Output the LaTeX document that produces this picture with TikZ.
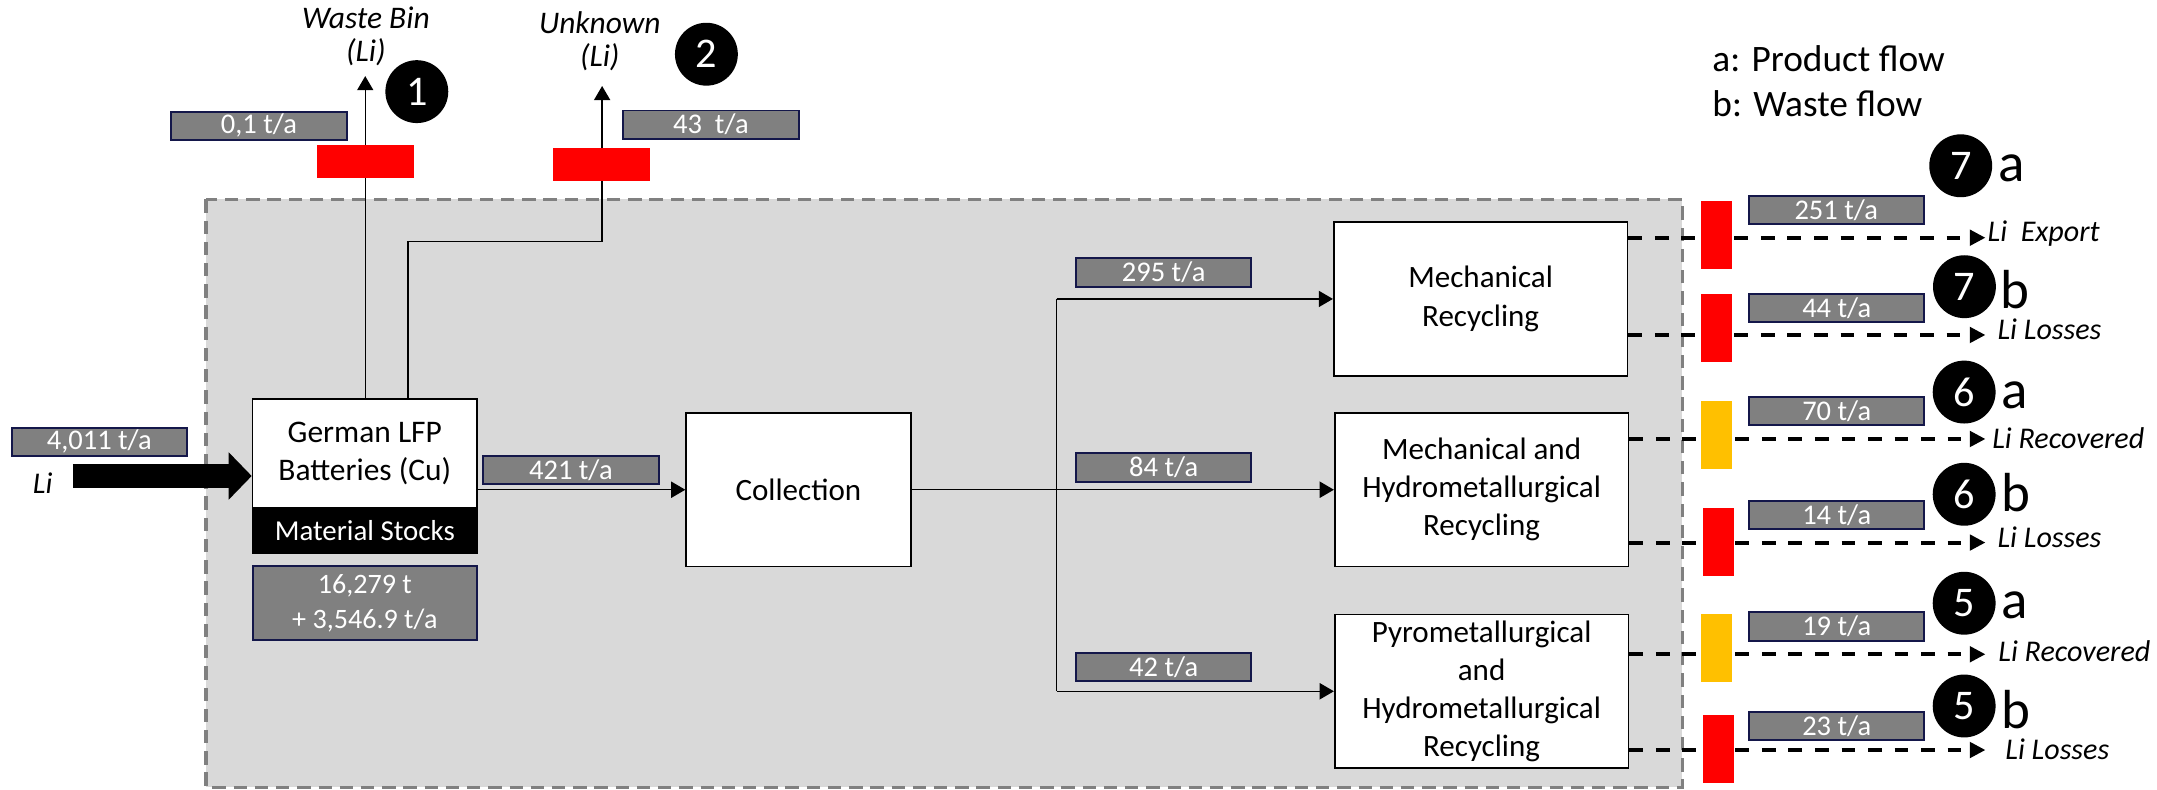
\documentclass[tikz,border=0pt]{standalone}
\usepackage{fontspec}
\setmainfont{Carlito}
\usetikzlibrary{arrows.meta}
\definecolor{valfill}{HTML}{808080}
\definecolor{valedge}{HTML}{14174A}
\definecolor{sysfill}{HTML}{D9D9D9}
\definecolor{sysedge}{HTML}{808080}
\definecolor{lossred}{HTML}{FF0000}
\definecolor{recgold}{HTML}{FFC000}
\newcommand{\fsz}[2]{\fontsize{#1}{#2}\selectfont}

\begin{document}
\begin{tikzpicture}[x=0.7pt,y=-0.7pt,
  proc/.style={draw=black, line width=0.9pt, fill=white, align=center, inner sep=0pt,
    minimum width=149.4pt, minimum height=78.2pt, font=\fsz{15.8}{19.4}},
  stockbox/.style={draw=black, line width=0.9pt, fill=white, align=center, inner sep=0pt,
    minimum width=114.2pt, font=\fsz{16}{19.5}},
  stocklabel/.style={draw=black, line width=0.9pt, fill=black, text=white, inner sep=0pt,
    minimum width=114.2pt, minimum height=22.9pt, font=\fsz{14.7}{16}},
  val/.style={draw=valedge, line width=1pt, fill=valfill, text=white, inner sep=0pt,
    minimum width=89.2pt, minimum height=14.4pt, font=\fsz{14.5}{15}},
  redbar/.style={fill=lossred, inner sep=0pt, minimum width=15.75pt, minimum height=34.7pt},
  goldbar/.style={fill=recgold, inner sep=0pt, minimum width=15.75pt, minimum height=34.7pt},
  topbar/.style={fill=lossred, inner sep=0pt, minimum width=49.1pt, minimum height=16.9pt},
  num/.style={circle, fill=black, text=white, inner sep=0pt, minimum size=32pt,
    font=\fsz{21.5}{21.5}},
  tag/.style={inner sep=0pt, anchor=base west, font=\fsz{28}{28}},
  outlab/.style={inner sep=0pt, anchor=west, font=\itshape\fsz{15.3}{16}},
  sinklab/.style={inner sep=0pt, align=center, font=\itshape\fsz{16}{17}},
  legend/.style={inner sep=0pt, anchor=base west, font=\fsz{19}{19}},
  flow/.style={line width=0.75pt},
  flowarr/.style={flow, -{Triangle[length=7.2pt,width=8.2pt]}},
  lossflow/.style={line width=2pt, dash pattern=on 7pt off 6.5pt,
    -{Triangle[length=8pt,width=7.8pt]}},
]
\useasboundingbox (0,0) rectangle (1568,574);

% system boundary
\draw[draw=sysedge, fill=sysfill, line width=1.7pt, dash pattern=on 6.8pt off 4pt]
  (149.8,144.9) rectangle (1223,572.3);

% processes and stock
\node[stockbox, minimum height=55.7pt] (glfp) at (265.2,329.75) {German LFP\\Batteries (Cu)};
\node[stocklabel] (stocks) at (265.2,385.85) {Material Stocks};
\node[val, minimum width=114.2pt, minimum height=37.7pt, align=center, font=\fsz{14.3}{17.8}]
  (stockval) at (265.2,438.4) {16,279 t\\+ 3,546.9 t/a};
\node[proc, minimum width=114.2pt, minimum height=78pt] (coll) at (580.4,356) {Collection};
\node[proc] (mech) at (1076.3,217.3) {Mechanical\\Recycling};
\node[proc] (mh) at (1077,356) {Mechanical and\\Hydrometallurgical\\Recycling};
\node[proc] (pyro) at (1077,502.5) {Pyrometallurgical\\and\\Hydrometallurgical\\Recycling};

% lithium input
\coordinate (listart) at (53,346);
\draw[line width=11.83pt, -{Triangle[length=11.7pt,width=23.4pt]}] (listart) -- (glfp.west |- listart);
\node[inner sep=0pt, font=\itshape\fsz{15.3}{16}] (lilab) at (31,351.4) {Li};

% flows out of the stock
\coordinate (wbtip) at (265.5,55.3);
\coordinate (unktip) at (437.7,62.5);
\coordinate (unkbend) at (296.7,175.7);
\draw[flowarr] (glfp.north -| wbtip) -- (wbtip);
\draw[flowarr] (glfp.north -| unkbend) -- (unkbend) -| (unktip);
\node[sinklab] (wblab) at (266,26.5) {Waste Bin\\(Li)};
\node[sinklab] (unklab) at (436,30) {Unknown\\(Li)};

% collection and split into recycling routes
\coordinate (split) at (768,356);
\draw[flowarr] (glfp.east |- coll.west) -- (coll.west);
\draw[flowarr] (coll.east) -- (mh.west);
\draw[flow] (split |- mech.west) -- (split |- pyro.west);
\draw[flowarr] (split |- mech.west) -- (mech.west);
\draw[flowarr] (split |- pyro.west) -- (pyro.west);

% recycling outputs
\coordinate (o7a) at (1443.3,172.8);
\coordinate (o7b) at (1443.3,243.5);
\coordinate (o6a) at (1443.3,319.1);
\coordinate (o6b) at (1443.3,394.4);
\coordinate (o5a) at (1443.3,475.6);
\coordinate (o5b) at (1443.3,545.2);
\draw[lossflow] (mech.east |- o7a) -- (o7a);
\draw[lossflow] (mech.east |- o7b) -- (o7b);
\draw[lossflow] (mh.east |- o6a) -- (o6a);
\draw[lossflow] (mh.east |- o6b) -- (o6b);
\draw[lossflow] (pyro.east |- o5a) -- (o5a);
\draw[lossflow] (pyro.east |- o5b) -- (o5b);

\node[outlab] (l7a) at (1444.6,169.6) {Li~ Export};
\node[outlab] (l7b) at (1451.8,239.2) {Li Losses};
\node[outlab] (l6a) at (1448,318.6) {Li Recovered};
\node[outlab] (l6b) at (1451.8,390.5) {Li Losses};
\node[outlab] (l5a) at (1452.4,473.7) {Li Recovered};
\node[outlab] (l5b) at (1457.5,545) {Li Losses};

% flow indicators
\node[topbar] (b1) at (265.75,117.5) {};
\node[topbar] (b2) at (437.3,119.35) {};
\node[redbar] (b7a) at (1248,170.6) {};
\node[redbar] (b7b) at (1248,238.3) {};
\node[goldbar] (b6a) at (1248,316.2) {};
\node[redbar] (b6b) at (1249,393.9) {};
\node[goldbar] (b5a) at (1248,471.3) {};
\node[redbar] (b5b) at (1249,544.3) {};

% flow values
\node[val] (v4011) at (72.2,321.2) {4,011 t/a};
\node[val] (v01) at (188.2,91.5) {0,1 t/a};
\node[val] (v43) at (516.8,90.6) {43~ t/a};
\node[val] (v421) at (415,341.5) {421 t/a};
\node[val] (v295) at (845.9,198) {295 t/a};
\node[val] (v84) at (845.9,339.8) {84 t/a};
\node[val] (v42) at (845.9,484.7) {42 t/a};
\node[val] (v251) at (1334.8,152.6) {251 t/a};
\node[val] (v44) at (1335.2,224) {44 t/a};
\node[val] (v70) at (1335.2,298.6) {70 t/a};
\node[val] (v14) at (1335.2,374.2) {14 t/a};
\node[val] (v19) at (1335.2,455.4) {19 t/a};
\node[val] (v23) at (1335.2,527.6) {23 t/a};

% flow numbers
\node[num] (n1) at (303,66.6) {1};
\node[num] (n2) at (513.5,39.4) {2};
\node[num] (n7a) at (1425.3,120.5) {7};
\node[num] (n7b) at (1428,208.4) {7};
\node[num] (n6a) at (1427.8,285) {6};
\node[num] (n6b) at (1427.8,359.3) {6};
\node[num] (n5a) at (1427.8,438.5) {5};
\node[num] (n5b) at (1427.8,513.2) {5};
\node[tag] (t7a) at (1452.4,132) {a};
\node[tag] (t7b) at (1453.7,224) {b};
\node[tag] (t6a) at (1455,296.8) {a};
\node[tag] (t6b) at (1455,371.9) {b};
\node[tag] (t5a) at (1455,449.5) {a};
\node[tag] (t5b) at (1455,529.5) {b};

% legend
\node[legend] (lga) at (1244.5,52) {a: Product flow};
\node[legend] (lgb) at (1244.5,84.8) {b: Waste flow};
\end{tikzpicture}
\end{document}
